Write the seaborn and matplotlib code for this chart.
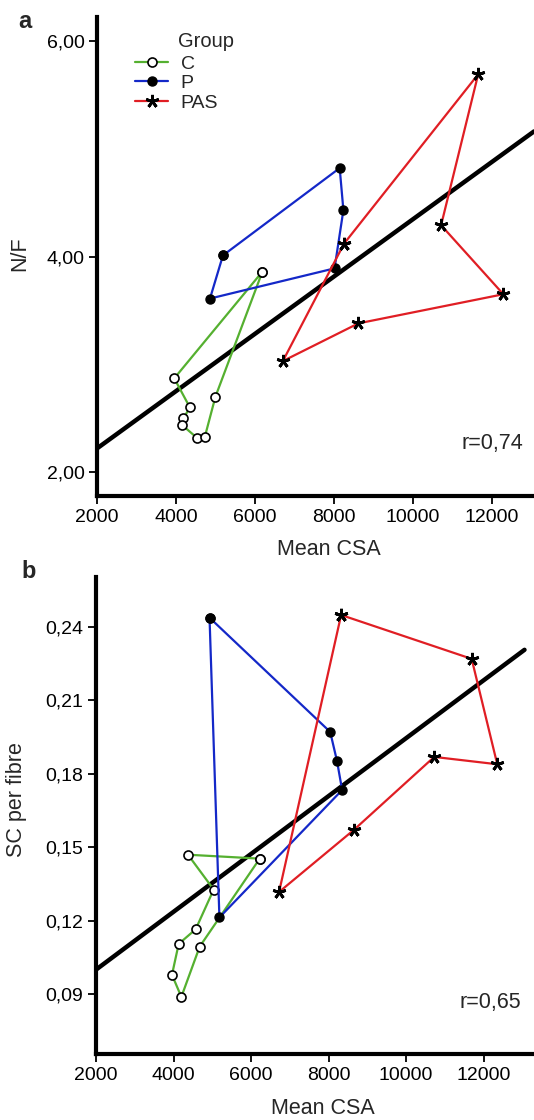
import numpy as np
import pandas as pd
import matplotlib
matplotlib.use("Agg")
import matplotlib.pyplot as plt
import seaborn as sns

# ---------------- data ----------------
groups = ["C", "P", "PAS"]

# panel a : N/F vs Mean CSA (points listed in the order they are joined)
a_C_x = [6190, 3957, 4353, 4190, 4147, 4526, 4733, 5000]
a_C_y = [3.86, 2.87, 2.60, 2.50, 2.44, 2.32, 2.33, 2.70]
a_P_x = [5190, 8147, 8241, 8017, 4862]
a_P_y = [4.01, 4.82, 4.43, 3.89, 3.61]
a_PAS_x = [8259, 11655, 10716, 12293, 8621, 6707]
a_PAS_y = [4.12, 5.69, 4.29, 3.65, 3.38, 3.03]
a_fit_x = [2000, 13069]
a_fit_y = [2.22, 5.16]
a_r = "r=0,74"

# panel b : SC per fibre vs Mean CSA
b_C_x = [6224, 4373, 5036, 4572, 4133, 3960, 4202, 4675]
b_C_y = [0.1454, 0.1470, 0.1328, 0.1166, 0.1106, 0.0980, 0.0890, 0.1095]
b_P_x = [4929, 8042, 8218, 8350, 5184]
b_P_y = [0.2437, 0.1971, 0.1852, 0.1734, 0.1214]
b_PAS_x = [8324, 11692, 12352, 10725, 8658, 6723]
b_PAS_y = [0.2448, 0.2269, 0.1839, 0.1869, 0.1572, 0.1318]
b_fit_x = [2000, 13055]
b_fit_y = [0.1001, 0.2306]
b_r = "r=0,65"

x_ticks = [2000, 4000, 6000, 8000, 10000, 12000]
x_ticklabels = ["2000", "4000", "6000", "8000", "10000", "12000"]
a_yticks = [2.0, 4.0, 6.0]
a_yticklabels = ["2,00", "4,00", "6,00"]
b_yticks = [0.09, 0.12, 0.15, 0.18, 0.21, 0.24]
b_yticklabels = ["0,09", "0,12", "0,15", "0,18", "0,21", "0,24"]

# ---------------- style ----------------
sns.set_style("ticks")
plt.rcParams["font.family"] = ["Liberation Sans", "DejaVu Sans"]

colors = {"C": "#55b030", "P": "#1428c8", "PAS": "#e01e24"}
marker_kw = {
    "C": dict(marker="o", markersize=6.5, markerfacecolor="white",
              markeredgecolor="black", markeredgewidth=1.2),
    "P": dict(marker="o", markersize=6.5, markerfacecolor="black",
              markeredgecolor="black", markeredgewidth=1.0),
    "PAS": dict(marker=(5, 2, 0), markersize=9.5, markerfacecolor="black",
                markeredgecolor="black", markeredgewidth=2.0),
}

W, H = 534, 1120
fig = plt.figure(figsize=(W / 100, H / 100), dpi=100)
ax_a = fig.add_axes([97 / W, 1 - 496 / H, 1 - 97 / W, (496 - 17) / H])
ax_b = fig.add_axes([96 / W, 1 - 1054 / H, 1 - 96 / W, (1054 - 577) / H])


def closed(xs, ys):
    xs = list(xs) + [xs[0]]
    ys = list(ys) + [ys[0]]
    return pd.DataFrame({"x": xs, "y": ys, "order": np.arange(len(xs))})


def draw_panel(ax, data, fit_x, fit_y, yticks, yticklabels, ylim, xlim):
    sns.lineplot(x=fit_x, y=fit_y, ax=ax, color="black", linewidth=3.2,
                 sort=False, estimator=None, zorder=2)
    for g in groups:
        xs, ys = data[g]
        df = closed(xs, ys)
        sns.lineplot(data=df, x="x", y="y", ax=ax, sort=False,
                     estimator=None, color=colors[g], linewidth=1.6,
                     label=g, zorder=3, **marker_kw[g])
    ax.set_xlim(*xlim)
    ax.set_ylim(*ylim)
    ax.set_xticks(x_ticks)
    ax.set_xticklabels(x_ticklabels)
    ax.set_yticks(yticks)
    ax.set_yticklabels(yticklabels)
    for s in ["top", "right"]:
        ax.spines[s].set_visible(False)
    for s in ["left", "bottom"]:
        ax.spines[s].set_linewidth(3.0)
        ax.spines[s].set_color("black")
    ax.tick_params(axis="both", direction="out", length=6, width=1.3,
                   color="black", labelsize=14, pad=3,
                   labelcolor="black")
    ax.set_facecolor("white")


draw_panel(ax_a, {"C": (a_C_x, a_C_y), "P": (a_P_x, a_P_y),
                  "PAS": (a_PAS_x, a_PAS_y)},
           a_fit_x, a_fit_y, a_yticks, a_yticklabels,
           (1.779, 6.221), (2000, 13069))
draw_panel(ax_b, {"C": (b_C_x, b_C_y), "P": (b_P_x, b_P_y),
                  "PAS": (b_PAS_x, b_PAS_y)},
           b_fit_x, b_fit_y, b_yticks, b_yticklabels,
           (0.0657, 0.2603), (2000, 13300))

# axis labels
ax_a.set_xlabel("Mean CSA", fontsize=15.5)
ax_a.xaxis.set_label_coords(0.530, -0.1127)
ax_a.xaxis.label.set_va("center")
ax_a.set_ylabel("N/F", fontsize=15.5)
ax_a.yaxis.set_label_coords(-0.176, 0.505)
ax_a.yaxis.label.set_va("center")

ax_b.set_xlabel("Mean CSA", fontsize=15.5)
ax_b.xaxis.set_label_coords(0.517, -0.1153)
ax_b.xaxis.label.set_va("center")
ax_b.set_ylabel("SC per fibre", fontsize=15.5)
ax_b.yaxis.set_label_coords(-0.1826, 0.5325)
ax_b.yaxis.label.set_va("center")

# correlation texts
ax_a.text(0.975, 0.1096, a_r, transform=ax_a.transAxes, ha="right",
          va="center", fontsize=15.5)
ax_b.text(0.970, 0.109, b_r, transform=ax_b.transAxes, ha="right",
          va="center", fontsize=15.5)

# legend only on panel a
if ax_b.get_legend() is not None:
    ax_b.get_legend().remove()
handles, labels = ax_a.get_legend_handles_labels()
leg = ax_a.legend(handles, labels, loc="upper left",
                  bbox_to_anchor=((135 - 97) / 437, (496 - 55) / 479),
                  frameon=False, fontsize=14, borderpad=0,
                  borderaxespad=0, labelspacing=0.1, handlelength=1.7,
                  handletextpad=0.65, numpoints=1)
ax_a.text((178 - 97) / 437, (496 - 41.5) / 479, "Group",
          transform=ax_a.transAxes, ha="left", va="center", fontsize=14.5)

# panel letters
fig.text(25 / W, 1 - 21 / H, "a", fontsize=17, fontweight="bold",
         ha="center", va="center")
fig.text(29 / W, 1 - 572 / H, "b", fontsize=17, fontweight="bold",
         ha="center", va="center")

fig.savefig("out.png", dpi=100, facecolor="white")
